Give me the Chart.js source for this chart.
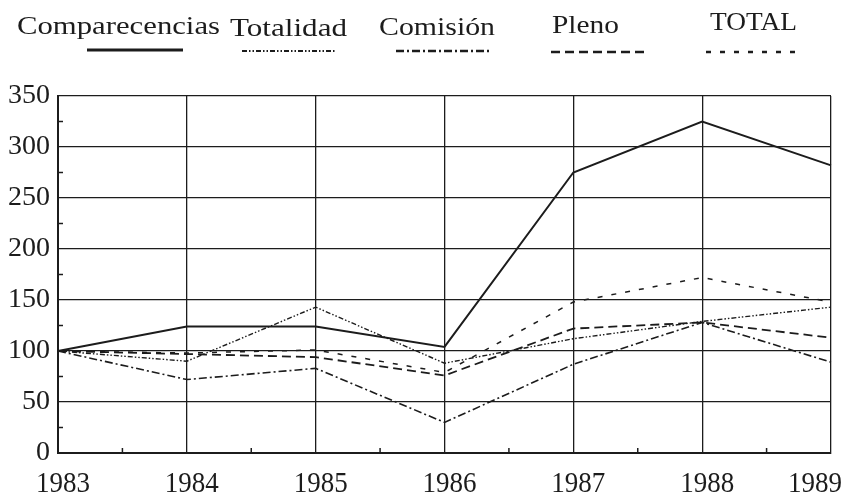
<!DOCTYPE html>
<html>
<head>
<meta charset="utf-8">
<script src="https://cdn.jsdelivr.net/npm/chart.js@4/dist/chart.umd.min.js"></script>
<style>
  html, body { margin: 0; padding: 0; background: #fff; }
  #wrap { width: 845px; height: 494px; }
</style>
</head>
<body>
<div id="wrap"><canvas id="chart" width="845" height="494"></canvas></div>
<script>
// --- Data ---
const years = ['1983', '1984', '1985', '1986', '1987', '1988', '1989'];
const seriesNames = ['Comparecencias', 'Totalidad', 'Comisión', 'Pleno', 'TOTAL'];
const comparecencias = [100, 124, 124, 104, 275, 325, 282];
const totalidad = [100, 90, 143, 88, 112, 129, 143];
const comision = [100, 72, 83, 30, 87, 128, 89];
const pleno = [100, 97, 94, 76, 122, 128, 113];
const total = [100, 98, 101, 79, 148, 172, 148];

const INK = '#1c1c1c';
const FONT = '"Liberation Serif", "Times New Roman", serif';

// legend boxes: text left/width/baseline, sample line start/end/y
const legendLayout = [
    { tx: 17, tw: 203, ty: 34, x0: 87, x1: 183, ly: 50 },
    { tx: 230, tw: 117, ty: 36, x0: 242, x1: 336, ly: 51 },
    { tx: 379, tw: 116, ty: 35, x0: 396, x1: 490, ly: 51 },
    { tx: 552, tw: 67, ty: 33, x0: 551, x1: 645, ly: 52 },
    { tx: 710, tw: 87, ty: 30, x0: 706, x1: 799, ly: 52 }
];

function line(label, data, dash, width) {
    return {
        label: label,
        data: data,
        borderColor: INK,
        borderWidth: width,
        borderDash: dash,
        pointRadius: 0,
        tension: 0,
        fill: false
    };
}

// --- Custom plugin: legend, minor ticks and x labels ---
const decorations = {
    id: 'decorations',
    afterDraw(chart) {
        const ctx = chart.ctx;
        const xs = chart.scales.x;
        const ys = chart.scales.y;
        const area = chart.chartArea;

        ctx.save();
        ctx.strokeStyle = INK;
        ctx.lineWidth = 1.5;

        // minor ticks on y axis
        for (let v = 25; v < 350; v += 50) {
            const py = ys.getPixelForValue(v);
            ctx.beginPath();
            ctx.moveTo(area.left, py);
            ctx.lineTo(area.left + 5, py);
            ctx.stroke();
        }
        // minor ticks on x axis
        for (let i = 0; i < years.length - 1; i++) {
            const px = (xs.getPixelForTick(i) + xs.getPixelForTick(i + 1)) / 2;
            ctx.beginPath();
            ctx.moveTo(px, area.bottom);
            ctx.lineTo(px, area.bottom - 5);
            ctx.stroke();
        }

        // x labels (last one kept inside the canvas), slightly condensed
        ctx.fillStyle = INK;
        ctx.font = '30px ' + FONT;
        ctx.textBaseline = 'alphabetic';
        const sx = 0.9;
        years.forEach((y, i) => {
            const w = ctx.measureText(y).width * sx;
            let left = xs.getPixelForTick(i) - w / 2 + 5;
            if (left + w > chart.width - 3) left = chart.width - 3 - w;
            ctx.save();
            ctx.translate(left, 492);
            ctx.scale(sx, 1);
            ctx.fillText(y, 0, 0);
            ctx.restore();
        });

        // legend
        chart.data.datasets.forEach((ds, i) => {
            const L = legendLayout[i];
            ctx.font = '26px ' + FONT;
            const w = ctx.measureText(ds.label).width;
            ctx.save();
            ctx.translate(L.tx, L.ty);
            ctx.scale(L.tw / w, 1);
            ctx.fillText(ds.label, 0, 0);
            ctx.restore();

            ctx.beginPath();
            ctx.setLineDash(ds.borderDash);
            ctx.lineWidth = ds.borderWidth + 0.8;
            ctx.moveTo(L.x0, L.ly);
            ctx.lineTo(L.x1, L.ly);
            ctx.stroke();
        });
        ctx.restore();
    }
};

new Chart(document.getElementById('chart'), {
    type: 'line',
    data: {
        labels: years,
        datasets: [
            line(seriesNames[0], comparecencias, [], 2),
            line(seriesNames[1], totalidad, [5, 2, 1.5, 2, 1.5, 2], 1.4),
            line(seriesNames[2], comision, [8, 3, 2, 3], 1.6),
            line(seriesNames[3], pleno, [9, 5], 1.8),
            line(seriesNames[4], total, [5, 9], 1.5)
        ]
    },
    options: {
        responsive: false,
        animation: false,
        layout: { padding: { top: 96, right: 14, left: 0, bottom: 0 } },
        plugins: {
            legend: { display: false },
            tooltip: { enabled: false }
        },
        scales: {
            x: {
                offset: false,
                grid: { color: INK, lineWidth: 1.3, drawTicks: false },
                border: { color: INK, width: 2 },
                ticks: { display: false },
                afterFit(scale) { scale.height = 41; }
            },
            y: {
                min: 0,
                max: 350,
                ticks: { stepSize: 50, color: INK, font: { family: FONT, size: 28 }, padding: 8 },
                grid: { color: INK, lineWidth: 1.3, drawTicks: false },
                border: { color: INK, width: 2 },
                afterFit(scale) { scale.width = 58; }
            }
        }
    },
    plugins: [decorations]
});
</script>
</body>
</html>
